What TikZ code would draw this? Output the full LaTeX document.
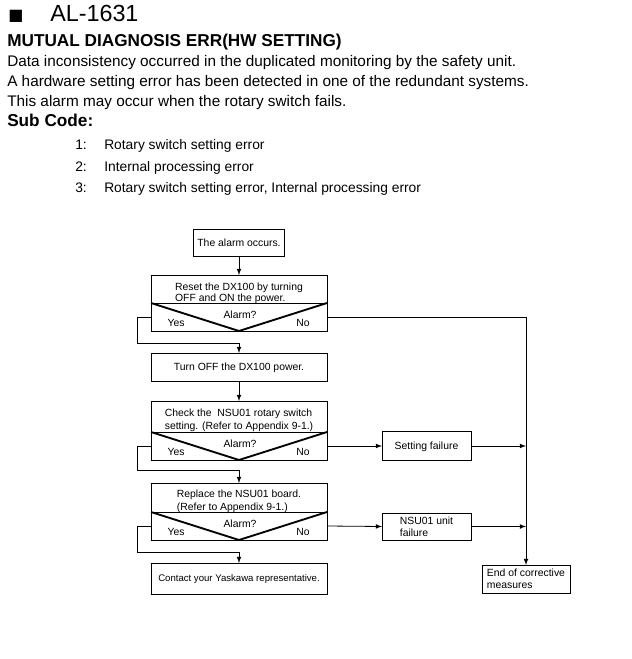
\documentclass[tikz,border=0pt]{standalone}
\usepackage{fontspec}
\setmainfont{Liberation Sans}
\newfontfamily\markfont{DejaVu Sans}
\usetikzlibrary{positioning,calc}

\tikzset{
  bodytext/.style={anchor=base west, inner sep=0pt, font=\fontsize{10.5}{12}\selectfont},
  headtext/.style={bodytext, font=\bfseries\fontsize{12.9}{14}\selectfont},
  desctext/.style={bodytext, font=\fontsize{11.5}{13}\selectfont},
  subtext/.style={bodytext, font=\fontsize{10.35}{12}\selectfont},
  box/.style={draw, line width=0.6pt, outer sep=0pt, inner xsep=2pt, inner ysep=0pt, minimum width=132pt, minimum height=21pt, align=left, text depth=-1.5pt},
  qbox/.style={box, minimum height=21pt},
  vee/.style={line width=1.4pt},
  flowlbl/.style={inner sep=0pt},
  conn/.style={->, line width=0.6pt}
}

\begin{document}
\begin{tikzpicture}[x=0.75pt, y=-0.75pt, >=latex, font=\fontsize{7.8}{8.8}\selectfont]
\useasboundingbox (0,0) rectangle (631,659);

% heading
\node[anchor=base west, inner sep=0pt, font=\markfont\fontsize{12}{14}\selectfont] (mark) at (8,21) {■};
\node[anchor=base west, inner sep=0pt, font=\fontsize{17.5}{19}\selectfont] (code) at (50,22) {AL-1631};
\node[headtext] (name) at (7,46.7) {MUTUAL DIAGNOSIS ERR(HW SETTING)};
\node[desctext] (desc1) at (7,67) {Data inconsistency occurred in the duplicated monitoring by the safety unit.};
\node[desctext] (desc2) at (7,87) {A hardware setting error has been detected in one of the redundant systems.};
\node[desctext] (desc3) at (7,107) {This alarm may occur when the rotary switch fails.};
\node[headtext] (subcode) at (7,127) {Sub Code:};
\foreach \n/\t [count=\i] in {1/Rotary switch setting error, 2/Internal processing error, 3/{Rotary switch setting error, Internal processing error}}{
  \node[subtext] (num\i) at (75, {150+21.5*(\i-1)}) {\n:};
  \node[subtext] (sub\i) at (104, {150+21.5*(\i-1)}) {\t};
}

% flow, left column
\node[box, minimum width=68pt, minimum height=20pt] (start) at (239,243) {The alarm occurs.};
\node[box] (reset) at (239,289) {\rule{0pt}{10.9pt}Reset the DX100 by turning\\[-0.75pt]OFF and ON the power.};
\node[qbox, below=0pt of reset] (resetq) {};
\node[box] (turnoff) at (239,367) {Turn OFF the DX100 power.};
\node[box, minimum height=23.25pt] (check) at (239,416.5) {\rule{0pt}{9.3pt}Check the~~NSU01 rotary switch\\[0.9pt]setting. (Refer to Appendix 9-1.)};
\node[qbox, below=0pt of check] (checkq) {};
\node[box, minimum height=21.75pt] (replace) at (239,497.5) {\rule{0pt}{9.3pt}Replace the NSU01 board.\\[0.9pt](Refer to Appendix 9-1.)};
\node[qbox, below=0pt of replace] (replaceq) {};
\node[box, minimum height=23.25pt, font=\fontsize{7.2}{8.8}\selectfont] (contact) at (239,578.5) {Contact your Yaskawa representative.};

% flow, right column
\node[box, minimum width=66.75pt, minimum height=21.75pt] (setfail) at (426.5,446) {Setting failure};
\node[box, minimum width=66.75pt, minimum height=20.25pt] (unitfail) at (426.5,526.5) {NSU01 unit\\failure};
\node[box, minimum width=66pt, minimum height=21pt] (finish) at (526,579) {End of corrective\\measures};

\foreach \q in {resetq,checkq,replaceq}{
  \draw[vee] (\q.north west) -- (\q.south) -- (\q.north east);
  \node[flowlbl] (\q-ask) at ($(\q.center)+(1,-2)$) {Alarm?};
  \node[flowlbl] (\q-yes) at ($(\q.west)+(25,6)$) {Yes};
  \node[flowlbl] (\q-no) at ($(\q.east)+(-24,6)$) {No};
}

\draw[conn] (start) -- (reset);
\draw[conn] (resetq.west) -- ++(-14,0) |- ($(turnoff.north)+(0,-10)$) -- (turnoff.north);
\draw[conn] (turnoff) -- (check);
\draw[conn] (checkq.west) -- ++(-14,0) |- ($(replace.north)+(0,-13)$) -- (replace.north);
\draw[conn] (replaceq.west) -- ++(-14,0) |- ($(contact.north)+(0,-11)$) -- (contact.north);

\draw[conn] (resetq.east) -| (finish.north);
\draw[conn] (checkq.east) -- (setfail.west);
\draw[conn] (replaceq.east) -- (unitfail.west);
\draw[conn] (setfail.east) -- (setfail.east -| finish.north);
\draw[conn] (unitfail.east) -- (unitfail.east -| finish.north);
\end{tikzpicture}
\end{document}
